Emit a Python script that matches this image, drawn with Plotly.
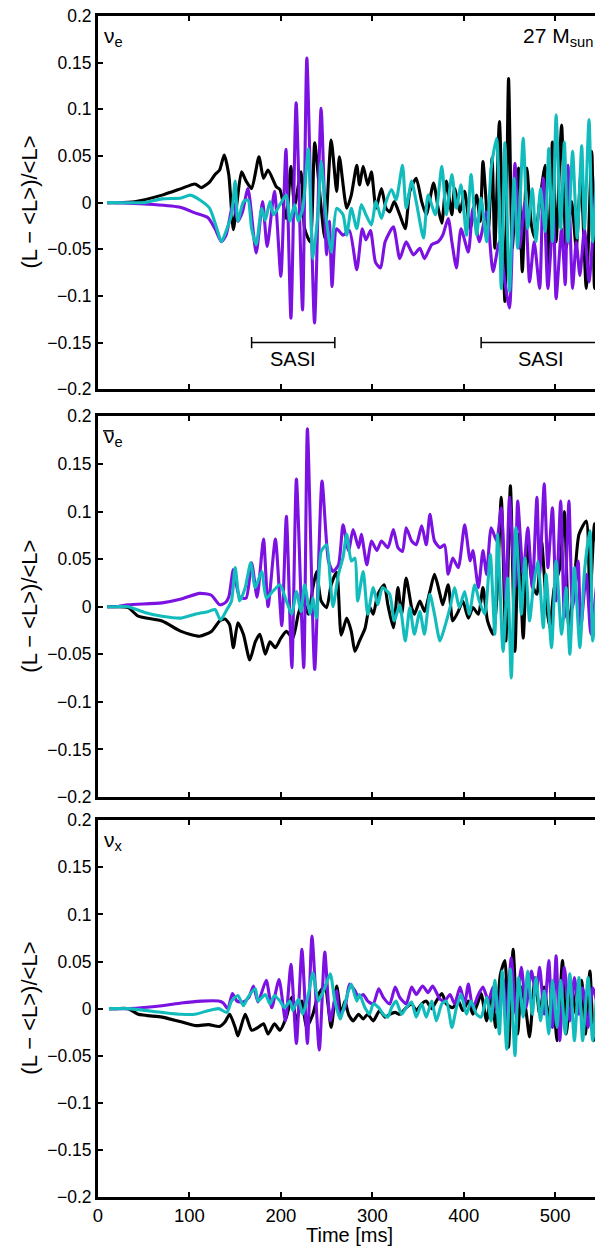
import plotly.graph_objects as go

# ---------------- data ----------------
# Panel 1: nu_e
nue_black_t = [10, 20, 40, 70, 91, 106, 113, 122, 128, 133, 138, 143, 148, 152, 157, 162, 168, 176, 181, 186, 195, 199, 206, 211, 215, 222, 226, 232, 237, 243, 248, 255, 261, 264, 272, 277, 283, 286, 290, 295, 299, 304, 310, 315, 319, 324, 330, 336, 341, 348, 354, 359, 367, 372, 376, 381, 387, 390, 396, 401, 407, 414, 418, 421, 427, 431, 434, 439, 445, 449, 453, 456, 460, 464, 469, 474, 478, 483, 489, 492, 497, 501, 507, 512, 518, 523, 528, 534, 540, 543, 547, 550]
nue_black = [0, 0, 0.001, 0.008, 0.015, 0.02, 0.016, 0.022, 0.03, 0.035, 0.051, 0.03, -0.029, 0.0, 0.033, 0.023, 0.015, 0.049, 0.026, 0.035, 0.017, 0.014, -0.017, 0.039, -0.003, 0.033, -0.028, -0.042, 0.064, 0.005, -0.038, 0.067, 0.012, 0.049, -0.006, 0.008, 0.04, 0.019, 0.039, 0.019, 0.033, -0.006, 0.015, -0.006, -0.01, 0.001, -0.013, -0.028, 0.012, 0.026, 0.001, -0.013, 0.021, -0.006, -0.022, 0.023, -0.013, 0.015, -0.01, 0.012, -0.028, 0.008, -0.02, 0.044, -0.028, 0.048, -0.049, 0.087, -0.106, 0.133, -0.049, -0.006, 0.037, -0.074, 0.037, -0.024, -0.038, 0.001, 0.04, -0.085, 0.065, -0.042, 0.083, -0.049, 0.001, -0.049, 0.029, -0.092, 0.055, -0.092, -0.006, -0.06]

nue_purple_t = [10, 20, 60, 90, 106, 120, 128, 135, 140, 145, 148, 153, 158, 164, 173, 180, 185, 193, 200, 205.5, 211, 216.7, 223.7, 228.4, 236.8, 244, 250, 253, 256, 261, 268, 275, 283, 289, 293, 298, 303.5, 309, 314, 323, 330, 337, 345, 352, 357, 365, 372, 377, 383, 387, 392, 397, 405, 410, 417, 425, 432, 439, 445, 450, 456, 461, 467, 472, 477, 483, 487, 492, 498, 501, 507, 511, 514, 519, 523, 527, 532, 537, 543, 547, 550]
nue_purple = [0, 0, -0.002, -0.005, -0.011, -0.016, -0.028, -0.042, -0.035, -0.012, 0.0, -0.02, -0.01, 0.015, -0.054, 0.001, -0.047, 0.012, -0.079, 0.057, -0.124, 0.107, -0.115, 0.155, -0.129, 0.101, -0.056, -0.02, -0.09, -0.028, -0.035, -0.03, -0.072, -0.028, -0.04, -0.03, -0.064, -0.07, -0.042, -0.026, -0.06, -0.042, -0.056, -0.049, -0.06, -0.045, -0.042, -0.035, -0.017, -0.042, -0.07, -0.028, -0.053, -0.006, -0.042, -0.01, -0.074, -0.042, -0.085, -0.113, 0.042, -0.049, 0.001, -0.085, -0.042, -0.092, 0.026, -0.092, -0.013, -0.103, -0.028, -0.088, 0.04, -0.092, -0.042, -0.078, -0.028, -0.085, -0.006, 0.05, 0.02]

nue_cyan_t = [10, 20, 51, 70, 91, 101, 111, 122, 130, 135, 141, 146, 150, 153, 159, 164, 168, 173, 179, 183, 188, 192, 199, 206, 210, 215, 219, 224, 230, 235, 241, 244, 250, 255, 261, 268, 272, 277, 283, 288, 293, 299, 304, 310, 315, 321, 326, 333, 337, 343, 348, 356, 361, 369, 376, 381, 387, 392, 397, 403, 408, 414, 419, 425, 430, 436, 441, 445, 450, 455, 459, 465, 470, 475, 479, 484, 489, 493, 497, 501, 506, 510, 514, 519, 524, 529, 532, 537, 541, 547, 550]
nue_cyan = [0, 0, 0.0, 0.004, 0.005, 0.008, 0.003, -0.006, -0.028, -0.042, -0.028, -0.013, 0.023, -0.02, 0.001, 0.003, -0.028, -0.045, -0.006, -0.019, 0.001, -0.013, -0.002, 0.008, -0.02, -0.002, -0.02, -0.006, 0.058, -0.06, -0.006, 0.044, -0.02, -0.053, -0.006, -0.013, -0.035, -0.006, -0.028, -0.002, -0.013, -0.024, 0.001, -0.017, 0.001, 0.014, 0.003, 0.04, -0.006, 0.023, 0.001, -0.038, 0.008, -0.013, 0.039, -0.013, 0.03, -0.006, 0.019, -0.035, 0.03, -0.035, 0.005, -0.042, 0.037, 0.069, -0.092, 0.064, -0.095, 0.026, -0.049, 0.069, -0.028, 0.015, -0.042, 0.015, -0.031, 0.058, -0.042, 0.094, -0.028, 0.065, -0.042, 0.055, -0.038, 0.061, -0.028, 0.089, -0.042, 0.055, 0.0]

# Panel 2: anti nu_e
anue_black_t = [10, 20, 33, 44, 70, 91, 111, 124, 133, 139, 144, 148, 153, 159, 166, 172, 177, 183, 188, 194, 200, 206, 213, 219, 224, 230, 235, 239, 244, 250, 255, 261, 266, 272, 277, 281, 286, 292, 297, 301, 306, 313, 317, 323, 328, 332, 337, 343, 346, 352, 357, 363, 368, 374, 377, 383, 388, 394, 399, 405, 410, 416, 421, 426, 432, 436, 441, 446, 451, 456, 460, 465, 470, 475, 480, 485, 490, 494, 499, 505, 510, 515, 521, 526, 534, 538, 543, 548]
anue_black = [0, 0, -0.001, -0.01, -0.015, -0.026, -0.031, -0.026, -0.015, -0.013, -0.019, -0.043, -0.017, -0.029, -0.056, -0.037, -0.029, -0.05, -0.037, -0.043, -0.033, -0.026, -0.033, -0.008, 0.006, -0.008, 0.02, 0.037, 0.006, -0.001, 0.023, 0.036, -0.03, -0.012, -0.026, -0.047, -0.036, -0.023, 0.0, -0.008, 0.013, 0.023, 0.002, -0.022, 0.02, -0.008, 0.03, -0.001, -0.008, 0.006, -0.005, 0.016, 0.034, 0.013, 0.002, 0.023, -0.015, -0.005, 0.006, -0.012, -0.001, -0.008, 0.02, -0.015, -0.029, 0.006, 0.115, -0.036, 0.127, -0.047, 0.076, -0.033, 0.065, 0.023, 0.013, 0.069, 0.006, -0.022, 0.02, 0.041, 0.1, -0.022, 0.027, 0.076, 0.09, 0.006, 0.087, 0.034]

anue_purple_t = [10, 20, 33, 70, 91, 111, 124, 133, 139, 143, 148, 152, 155, 162, 168, 174, 181, 186, 194, 201, 206, 212, 217, 225, 229, 237, 245, 252, 257, 263, 268, 274, 279, 285, 288, 294, 299, 305, 310, 317, 323, 328, 333, 337, 343, 348, 354, 359, 363, 368, 374, 379, 383, 388, 394, 401, 407, 410, 416, 421, 425, 430, 436, 441, 446, 450, 456, 459, 465, 470, 475, 480, 483, 488, 492, 497, 501, 506, 510, 515, 519, 525, 528, 534, 539, 545, 548]
anue_purple = [0, 0, 0.002, 0.004, 0.008, 0.014, 0.012, 0.002, 0.004, 0.01, 0.039, 0.02, 0.01, 0.009, 0.046, 0.01, 0.071, 0.0, 0.071, -0.02, 0.095, -0.064, 0.134, -0.064, 0.187, -0.066, 0.132, 0.048, 0.037, 0.044, 0.086, 0.059, 0.081, 0.062, 0.076, 0.044, 0.069, 0.059, 0.069, 0.062, 0.081, 0.062, 0.058, 0.083, 0.069, 0.065, 0.085, 0.065, 0.097, 0.069, 0.062, 0.065, 0.034, 0.051, 0.041, 0.086, 0.048, 0.059, 0.02, 0.059, 0.034, 0.083, 0.069, 0.104, 0.006, 0.115, 0.02, 0.111, 0.034, 0.083, 0.02, 0.115, 0.034, 0.129, 0.041, 0.104, 0.006, 0.111, -0.012, 0.111, -0.001, 0.048, -0.022, 0.034, -0.029, 0.02, 0.055]

anue_cyan_t = [10, 20, 33, 51, 70, 91, 106, 121, 128, 134, 141, 146, 150, 155, 161, 167, 172, 179, 184, 191, 199, 206, 212, 217, 222, 226, 232, 235, 239, 244, 250, 254, 257, 263, 268, 272, 277, 281, 284, 290, 295, 301, 306, 311, 319, 324, 330, 336, 341, 346, 352, 357, 363, 368, 374, 379, 385, 390, 395, 401, 406, 412, 417, 423, 429, 434, 437, 443, 448, 452, 457, 463, 467, 472, 476, 481, 487, 490, 496, 501, 507, 512, 516, 521, 527, 532, 538, 541, 547]
anue_cyan = [0, 0, 0.0, -0.006, -0.01, -0.012, -0.008, -0.005, -0.003, -0.014, -0.003, 0.006, 0.041, 0.006, 0.02, 0.046, 0.02, 0.037, 0.009, 0.016, 0.023, 0.006, -0.008, 0.016, -0.005, 0.023, -0.008, 0.009, -0.012, 0.058, 0.065, 0.027, 0.0, 0.034, 0.052, 0.076, 0.048, 0.051, 0.006, 0.037, -0.008, 0.02, 0.002, 0.02, 0.013, -0.015, 0.002, -0.036, -0.001, -0.029, -0.005, -0.029, 0.013, -0.008, -0.036, -0.022, -0.001, 0.02, -0.001, 0.016, -0.008, 0.023, 0.006, -0.008, 0.055, -0.029, 0.076, -0.047, 0.03, -0.075, 0.083, -0.008, 0.051, -0.015, 0.02, 0.048, -0.022, 0.034, -0.043, 0.048, -0.029, 0.02, -0.05, 0.041, -0.043, 0.037, 0.08, -0.036, 0.041]

# Panel 3: nu_x
nux_black_t = [12, 20, 33, 44, 70, 91, 106, 121, 133, 139, 144, 150, 153, 161, 168, 175, 181, 186, 193, 199, 206, 212, 217, 223, 228, 235, 241, 248, 255, 261, 266, 270, 274, 279, 285, 290, 295, 301, 308, 314, 319, 325, 330, 337, 343, 348, 354, 359, 365, 370, 376, 381, 388, 394, 399, 405, 410, 416, 419, 425, 430, 435, 440, 445, 449, 454, 459, 463, 468, 472, 478, 483, 488, 493, 497, 502, 508, 512, 518, 523, 529, 533, 538, 542, 547]
nux_black = [0, 0, 0.0, -0.006, -0.009, -0.014, -0.018, -0.017, -0.019, -0.014, -0.006, -0.02, -0.029, -0.006, -0.023, -0.02, -0.016, -0.027, -0.016, -0.023, -0.009, 0.012, -0.013, 0.008, -0.02, -0.006, 0.015, 0.024, -0.02, 0.024, -0.006, 0.008, -0.006, -0.013, -0.006, -0.011, -0.006, -0.013, -0.002, -0.009, -0.006, -0.004, -0.006, 0.001, 0.005, -0.002, 0.005, 0.008, 0.0, 0.008, 0.016, 0.005, 0.001, 0.008, -0.002, 0.008, -0.006, 0.008, 0.016, -0.013, 0.016, -0.02, 0.036, 0.051, -0.041, 0.063, -0.027, 0.023, -0.002, -0.03, 0.033, -0.006, 0.023, -0.013, 0.023, -0.034, 0.051, -0.027, 0.023, -0.006, 0.03, -0.027, 0.04, -0.034, 0.023]

nux_purple_t = [12, 20, 33, 70, 91, 113, 132, 137, 142, 147, 152, 159, 165, 170, 175, 184, 190, 198, 205, 211, 217, 223, 229, 234, 242, 248, 254, 261, 264, 270, 275, 281, 285, 290, 295, 301, 307, 312, 319, 325, 330, 337, 343, 348, 355, 361, 366, 374, 379, 385, 390, 396, 401, 405, 410, 416, 421, 427, 432, 437, 443, 446, 452, 457, 463, 468, 474, 479, 483, 488, 493, 497, 501, 505, 510, 516, 521, 526, 530, 536, 541, 547]
nux_purple = [0, 0, 0.0, 0.003, 0.006, 0.008, 0.008, 0.006, 0.0, 0.016, 0.008, 0.007, 0.012, 0.024, 0.007, 0.03, 0.001, 0.031, -0.013, 0.047, -0.037, 0.063, -0.037, 0.077, -0.044, 0.06, -0.013, 0.019, -0.006, 0.001, 0.026, 0.019, 0.012, 0.015, 0.008, 0.005, 0.021, 0.012, 0.005, 0.023, 0.012, 0.005, 0.023, 0.015, 0.024, 0.017, 0.024, 0.01, 0.008, 0.015, 0.005, 0.023, 0.005, 0.026, 0.001, 0.015, 0.023, 0.008, 0.023, -0.006, 0.033, -0.013, 0.054, -0.006, 0.044, 0.001, 0.04, 0.015, 0.044, -0.006, 0.051, -0.02, 0.056, -0.034, 0.044, -0.013, 0.033, -0.006, 0.022, -0.02, 0.022, 0.001]

nux_cyan_t = [12, 20, 33, 70, 91, 106, 121, 132, 141, 146, 153, 159, 164, 172, 175, 183, 188, 193, 199, 204, 210, 213, 219, 224, 230, 235, 241, 248, 254, 259, 265, 268, 274, 277, 283, 286, 292, 297, 301, 307, 312, 317, 321, 326, 332, 337, 343, 348, 354, 359, 365, 370, 376, 381, 387, 392, 397, 403, 408, 414, 419, 425, 430, 434, 439, 442, 447, 451, 456, 460, 465, 470, 475, 479, 484, 488, 493, 497, 502, 506, 511, 516, 521, 526, 530, 536, 541, 547]
nux_cyan = [0, 0, 0.0, -0.004, -0.006, -0.006, -0.002, 0.0, -0.004, 0.008, 0.014, 0.003, 0.012, 0.021, 0.008, 0.015, 0.005, 0.014, 0.008, 0.001, 0.008, -0.002, 0.01, -0.006, 0.015, 0.038, 0.008, 0.022, 0.037, 0.008, -0.011, -0.002, 0.019, 0.026, 0.008, 0.015, 0.001, -0.006, 0.005, 0.001, -0.006, -0.009, 0.001, 0.008, -0.006, 0.001, 0.007, -0.009, 0.005, -0.009, 0.008, -0.013, 0.005, 0.008, -0.02, 0.001, 0.015, -0.006, 0.008, -0.006, -0.009, 0.012, -0.013, 0.03, -0.027, 0.04, -0.043, 0.042, -0.05, 0.033, -0.009, 0.04, -0.006, 0.033, -0.013, 0.019, -0.027, 0.03, -0.02, 0.03, -0.027, 0.037, -0.034, 0.033, -0.034, 0.033, -0.034, 0.04]

ytick_vals = [-0.2, -0.15, -0.1, -0.05, 0, 0.05, 0.1, 0.15, 0.2]
ytick_text = ["\u22120.2", "\u22120.15", "\u22120.1", "\u22120.05", "0", "0.05", "0.1", "0.15", "0.2"]
xtick_vals = [0, 100, 200, 300, 400, 500]
xtick_text = ["0", "100", "200", "300", "400", "500"]

sasi_intervals = [(168, 259), (419, 549)]
sasi_level = -0.15

# ---------------- figure ----------------
BLACK = "#000000"
PURPLE = "#7b12e2"
CYAN = "#12bcbc"
FONT = "Liberation Sans, Arial, sans-serif"

panels = [
    [(nue_black_t, nue_black, BLACK), (nue_purple_t, nue_purple, PURPLE), (nue_cyan_t, nue_cyan, CYAN)],
    [(anue_black_t, anue_black, BLACK), (anue_purple_t, anue_purple, PURPLE), (anue_cyan_t, anue_cyan, CYAN)],
    [(nux_black_t, nux_black, BLACK), (nux_purple_t, nux_purple, PURPLE), (nux_cyan_t, nux_cyan, CYAN)],
]
domains = [[0.684, 1.0], [0.3387, 0.661], [0.0, 0.319]]

fig = go.Figure()
for i, series in enumerate(panels):
    xa = "x" if i == 0 else f"x{i+1}"
    ya = "y" if i == 0 else f"y{i+1}"
    for t, v, c in series:
        fig.add_trace(go.Scatter(x=t, y=v, mode="lines", xaxis=xa, yaxis=ya,
                                 line=dict(color=c, width=3.1, shape="spline", smoothing=0.6),
                                 showlegend=False, hoverinfo="skip"))

# page body has an 8px margin: figure is 595x1239 placed at (8, 8)
layout = dict(width=595, height=1239, margin=dict(l=90, r=3, t=8, b=50, autoexpand=False),
              paper_bgcolor="white", plot_bgcolor="white",
              font=dict(family=FONT, size=17, color="black"), showlegend=False)
for i in range(3):
    sx = "" if i == 0 else str(i + 1)
    layout[f"xaxis{sx}"] = dict(domain=[0, 1], range=[0, 549], anchor=f"y{sx}",
                                tickvals=xtick_vals, ticktext=xtick_text,
                                showticklabels=(i == 2), ticks="inside", ticklen=5, tickwidth=2,
                                tickcolor="black", showline=True, linewidth=3, linecolor="black",
                                mirror="ticks", showgrid=False, zeroline=False,
                                tickfont=dict(size=18.5), ticklabeloverflow="allow")
    layout[f"yaxis{sx}"] = dict(domain=domains[i], range=[-0.2, 0.2], anchor=f"x{sx}",
                                tickvals=ytick_vals, ticktext=ytick_text,
                                ticks="inside", ticklen=5, tickwidth=2, tickcolor="black",
                                showline=True, linewidth=3, linecolor="black", mirror="ticks",
                                showgrid=False, zeroline=False, tickfont=dict(size=17.5),
                                ticklabeloverflow="allow")
fig.update_layout(**layout)

annotations = []
ylabel = "(L \u2212 &lt;L&gt;)/&lt;L&gt;"
for i in range(3):
    mid = (domains[i][0] + domains[i][1]) / 2
    annotations.append(dict(text=ylabel, xref="paper", yref="paper", x=0, y=mid, xshift=-68,
                            xanchor="center", yanchor="middle", textangle=-90, showarrow=False,
                            font=dict(size=22)))
annotations.append(dict(text="Time [ms]", xref="paper", yref="paper", x=0.5, y=0, yshift=-51,
                        xanchor="center", yanchor="bottom", showarrow=False, font=dict(size=20)))
labels = ["\u03bd<sub>e</sub>", "\u03bd<sub>e</sub>", "\u03bd<sub>x</sub>"]
for i in range(3):
    sx = "" if i == 0 else str(i + 1)
    annotations.append(dict(text=labels[i], xref=f"x{sx} domain", yref=f"y{sx} domain",
                            x=0.008, y=0.985, xanchor="left", yanchor="top", showarrow=False,
                            font=dict(size=21)))
annotations.append(dict(text="27 M<sub>sun</sub>", xref="x domain", yref="y domain",
                        x=0.99, y=0.985, xanchor="right", yanchor="top", showarrow=False,
                        font=dict(size=21)))
shapes = []
# overbar of the anti-neutrino symbol
shapes.append(dict(type="line", xref="x2 domain", yref="y2 domain", x0=0.01, x1=0.031,
                   y0=0.962, y1=0.962, line=dict(color="black", width=1.5)))
for a, b in sasi_intervals:
    shapes.append(dict(type="line", xref="x", yref="y", x0=a, x1=b, y0=sasi_level, y1=sasi_level,
                       line=dict(color="black", width=1.5)))
    for e in (a, b):
        shapes.append(dict(type="line", xref="x", yref="y", x0=e, x1=e, y0=sasi_level - 0.006,
                           y1=sasi_level + 0.006, line=dict(color="black", width=1.5)))
    annotations.append(dict(text="SASI", xref="x", yref="y", x=(a + b) / 2, y=sasi_level - 0.004,
                            xanchor="center", yanchor="top", showarrow=False, font=dict(size=20)))
fig.update_layout(annotations=annotations, shapes=shapes)

fig.write_html("out.html")
